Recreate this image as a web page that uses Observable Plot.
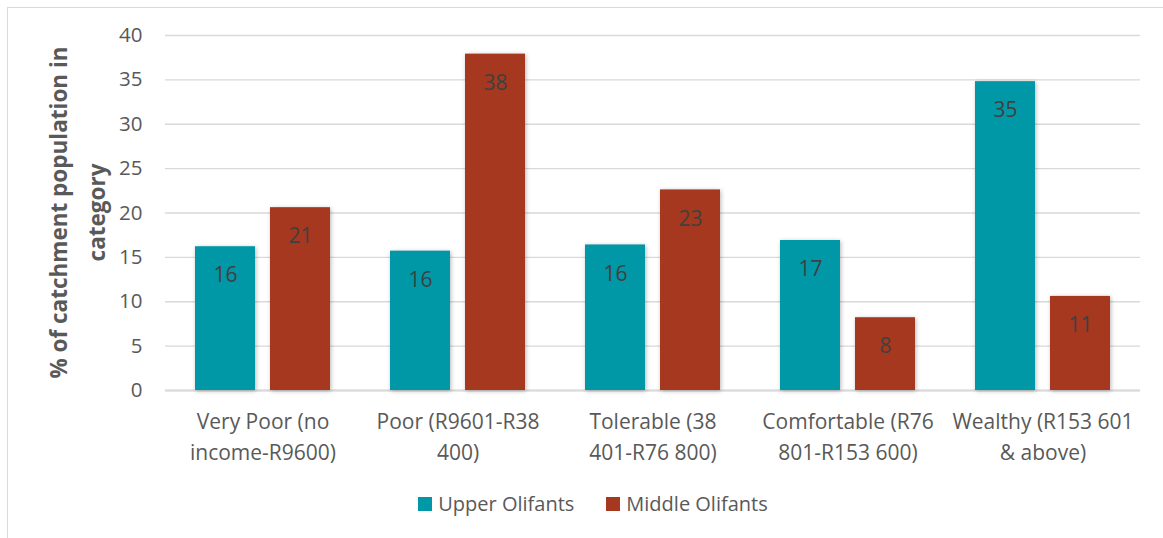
<!DOCTYPE html>
<html>
<head>
<meta charset="utf-8">
<script src="https://cdn.jsdelivr.net/npm/d3@7"></script>
<script src="https://cdn.jsdelivr.net/npm/@observablehq/plot@0.6"></script>
<style>
  html, body { margin: 0; padding: 0; background: #fff; }
  body { width: 1163px; height: 538px; position: relative; overflow: hidden; font-family: "Open Sans", sans-serif; }
  #frame { position: absolute; left: 7px; top: 7px; width: 1156px; height: 531px; border-top: 1px solid #d9d9d9; border-left: 1px solid #d9d9d9; box-sizing: border-box; }
  #chart { position: absolute; left: 0; top: 0; }
  #chart svg g[aria-label="bar"] rect { filter: drop-shadow(1.5px 1.5px 2px rgba(0,0,0,0.28)); }
  #ylabel { position: absolute; left: 0; top: 0; }
  #legend { position: absolute; left: 0; top: 490px; width: 1186px; display: flex; justify-content: center; gap: 32px; font-size: 20px; color: #595959; }
  .item { display: flex; align-items: center; gap: 6px; }
  .sw { width: 14px; height: 14px; display: inline-block; }
</style>
</head>
<body>
<div id="frame"></div>
<div id="chart"></div>
<svg id="ylabel" width="163" height="470"></svg>
<div id="legend"></div>
<script>
const categories = ["Very Poor", "Poor", "Tolerable", "Comfortable", "Wealthy"];
const tickLabels = [
  "Very Poor (no\nincome-R9600)",
  "Poor (R9601-R38\n400)",
  "Tolerable (38\n401-R76 800)",
  "Comfortable (R76\n801-R153 600)",
  "Wealthy (R153 601\n& above)"
];
const series = ["Upper Olifants", "Middle Olifants"];
const upperOlifants = [16.2, 15.7, 16.4, 16.9, 34.8];
const middleOlifants = [20.6, 37.9, 22.6, 8.2, 10.6];
const yTicks = [0, 5, 10, 15, 20, 25, 30, 35, 40];
const colors = ["#0097a7", "#a5381e"];
const yTitle = "% of catchment population in\ncategory";

const data = categories.flatMap((c, i) => [
  {cat: c, series: series[0], value: upperOlifants[i]},
  {cat: c, series: series[1], value: middleOlifants[i]}
]);

const chart = Plot.plot({
  width: 1163,
  height: 480,
  marginLeft: 163,
  marginRight: 21,
  marginTop: 35,
  marginBottom: 90,
  style: {fontFamily: "Open Sans, sans-serif", fontSize: "21px", color: "#595959", background: "transparent"},
  fx: {domain: categories, padding: 0, label: null},
  x: {domain: series, paddingInner: 0.197, paddingOuter: 0.385, axis: null},
  y: {domain: [0, 40], label: null},
  color: {domain: series, range: colors},
  marks: [
    Plot.gridY(yTicks, {stroke: "#d9d9d9", strokeOpacity: 1, strokeWidth: 1.3}),
    Plot.ruleY([0], {stroke: "#d9d9d9", strokeWidth: 2}),
    Plot.axisY(yTicks, {tickSize: 0, tickPadding: 23, label: null, fill: "#595959", fontSize: 20.5}),
    Plot.axisFx({anchor: "bottom", tickSize: 0, tickPadding: 16, lineHeight: 1.48, label: null,
      tickFormat: d => tickLabels[categories.indexOf(d)], fill: "#595959", fontSize: 21}),
    Plot.barY(data, {fx: "cat", x: "series", y: "value", fill: "series"}),
    Plot.text(data, {fx: "cat", x: "series", y: "value", text: d => d3.format(".0f")(d.value),
      dy: 29, fill: "#404040", fontSize: 21})
  ]
});
document.getElementById("chart").appendChild(chart);

// y axis title
const ys = d3.select("#ylabel");
const lines = yTitle.split("\n");
const t = ys.append("text")
  .attr("transform", "translate(78,212.5) rotate(-90)")
  .attr("text-anchor", "middle")
  .attr("font-family", "Open Sans, sans-serif")
  .attr("font-weight", "bold")
  .attr("font-size", 22.5)
  .attr("fill", "#595959");
lines.forEach((l, i) => {
  t.append("tspan").attr("x", 0).attr("y", (i - (lines.length - 1) / 2) * 38).attr("dy", "0.35em").text(l);
});

// legend
const legend = d3.select("#legend");
series.forEach((s, i) => {
  const it = legend.append("div").attr("class", "item");
  it.append("span").attr("class", "sw").style("background", colors[i]);
  it.append("span").text(s);
});
</script>
</body>
</html>
